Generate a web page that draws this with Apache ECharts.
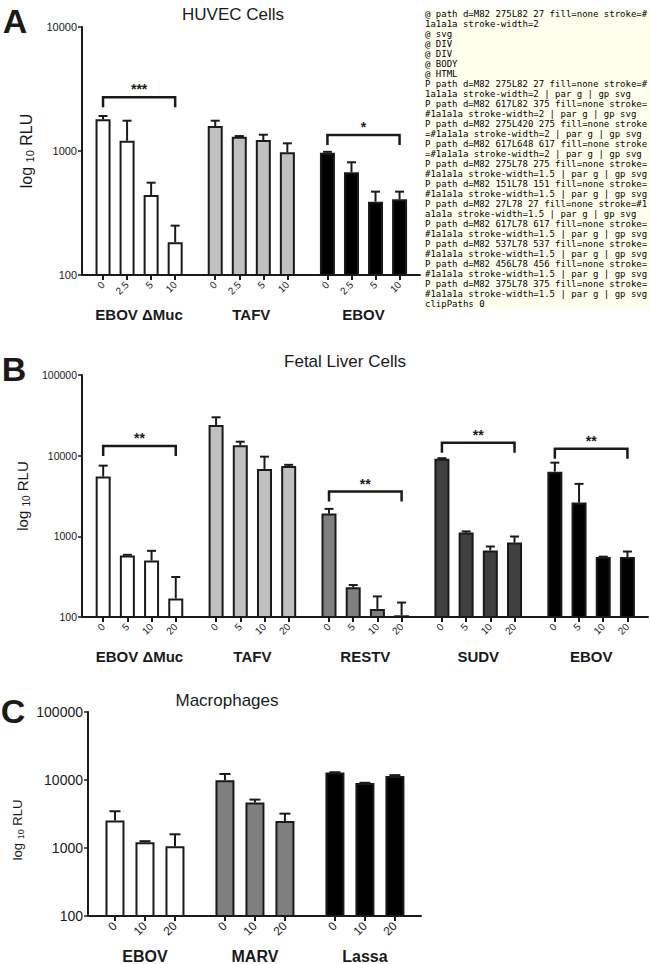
<!DOCTYPE html>
<html>
<head>
<meta charset="utf-8">
<script src="https://cdn.jsdelivr.net/npm/echarts@6/dist/echarts.min.js"></script>
<style>html,body{margin:0;padding:0;background:#fff}#c{width:650px;height:964px}#dbg{position:absolute;left:425px;top:0;width:225px;background:#ffe;font:9px monospace;white-space:pre-wrap;word-break:break-all;z-index:10}</style>
</head>
<body>
<div id="c"></div>
<pre id="dbg"></pre>
<script>
const huvecGroups = ['EBOV ΔMuc', 'TAFV', 'EBOV'];
const huvecDoses = ['0', '2.5', '5', '10'];
const huvecMean = [[1800, 1210, 442, 184], [1590, 1304, 1227, 975], [969, 673, 390, 408]];
const huvecErrTop = [[1916, 1755, 555, 250], [1755, 1320, 1353, 1153], [985, 811, 470, 470]];
const huvecSig = [[0, 2711, '***'], [2, 1345, '*']];
const huvecTicks = [100, 1000, 10000];
const liverGroups = ['EBOV ΔMuc', 'TAFV', 'RESTV', 'SUDV', 'EBOV'];
const liverDoses = ['0', '5', '10', '20'];
const liverMean = [[5500, 578, 501, 170], [24000, 13450, 6840, 7450], [1915, 233, 126, 105], [9180, 1113, 667, 838], [6340, 2620, 553, 553]];
const liverErrTop = [[7520, 590, 661, 313], [29900, 14900, 9720, 7700], [2190, 249, 180, 151], [9300, 1150, 748, 995], [8190, 4470, 560, 648]];
const liverSig = [[0, 13200, '**'], [2, 3590, '**'], [3, 14500, '**'], [4, 12200, '**']];
const liverTicks = [100, 1000, 10000, 100000];
const macroGroups = ['EBOV', 'MARV', 'Lassa'];
const macroDoses = ['0', '10', '20'];
const macroMean = [[2530, 1213, 1060], [9900, 4650, 2490], [12850, 9030, 11450]];
const macroErrTop = [[3470, 1260, 1590], [12250, 5150, 3200], [13000, 9100, 11800]];
const macroSig = [];
const macroTicks = [100, 1000, 10000, 100000];
const FONT = '"Liberation Sans", Arial, Helvetica, sans-serif';
const INK = '#1a1a1a';
const GAP = 2 / 3;
const panels = [
  { letter: 'A', title: 'HUVEC Cells', groups: huvecGroups, doses: huvecDoses, mean: huvecMean, err: huvecErrTop, sig: huvecSig, ticks: huvecTicks,
    colors: ['#ffffff', '#c0c0c0', '#000000'], grid: { left: 82, top: 27, width: 338, height: 248 }, edgeL: 0.875, edgeR: 0.85,
    barW: 15, cap: 9, yFont: 11, doseFont: 10, groupFont: 15, nameFont: 16, namePad: 0, nameGap: 46, letterPos: [15, 21], titlePos: [233, 14] },
  { letter: 'B', title: 'Fetal Liver Cells', groups: liverGroups, doses: liverDoses, mean: liverMean, err: liverErrTop, sig: liverSig, ticks: liverTicks,
    colors: ['#ffffff', '#c0c0c0', '#7f7f7f', '#404040', '#000000'], grid: { left: 82, top: 375, width: 566, height: 242 }, edgeL: 0.875, edgeR: 0.85,
    barW: 15, cap: 9, yFont: 10.5, doseFont: 10, groupFont: 15, nameFont: 15, namePad: 0, nameGap: 46, letterPos: [14, 369], titlePos: [345, 361] },
  { letter: 'C', title: 'Macrophages', groups: macroGroups, doses: macroDoses, mean: macroMean, err: macroErrTop, sig: macroSig, ticks: macroTicks,
    colors: ['#ffffff', '#7f7f7f', '#000000'], grid: { left: 88, top: 712, width: 333, height: 204 }, edgeL: 0.9, edgeR: 0.87,
    barW: 19, cap: 11, yFont: 14, doseFont: 12, groupFont: 16, nameFont: 13, namePad: 32, nameGap: 58, letterPos: [13, 711], titlePos: [227, 700] }
];
const grids = [], xAxes = [], yAxes = [], series = [], graphics = [];
panels.forEach((p, k) => {
  const n = p.doses.length;
  const pos = (g, i) => p.edgeL + g * (n + GAP) + i;
  const tickPos = [], tickLab = [];
  p.groups.forEach((_, g) => p.doses.forEach((d, i) => { tickPos.push(pos(g, i)); tickLab.push(d); }));
  const groupPos = p.groups.map((_, g) => pos(g, (n - 1) / 2));
  const last = pos(p.groups.length - 1, n - 1);
  const xmin = 0, xmax = last + p.edgeR;
  const ymin = p.ticks[0], ymax = p.ticks[p.ticks.length - 1];
  const near = (arr, labels) => v => { let b = 0; arr.forEach((a, i) => { if (Math.abs(a - v) < Math.abs(arr[b] - v)) b = i; }); return labels[b]; };
  grids.push(Object.assign({}, p.grid));
  xAxes.push({ type: 'value', gridIndex: k, min: xmin, max: xmax, position: 'bottom',
    axisLine: { show: true, onZero: false, lineStyle: { color: INK, width: 2 } },
    axisTick: { show: true, length: 5, lineStyle: { color: INK, width: 2 }, customValues: tickPos },
    axisLabel: { show: true, customValues: tickPos, rotate: 45, margin: 8, fontSize: p.doseFont, fontFamily: FONT, color: INK, formatter: near(tickPos, tickLab) },
    splitLine: { show: false } });
  xAxes.push({ type: 'value', gridIndex: k, min: xmin, max: xmax, position: 'bottom',
    axisLine: { show: false, onZero: false }, axisTick: { show: false }, splitLine: { show: false },
    axisLabel: { show: true, customValues: groupPos, margin: 32, fontSize: p.groupFont, fontWeight: 'bold', fontFamily: FONT, color: INK, formatter: near(groupPos, p.groups) } });
  yAxes.push({ type: 'log', logBase: 10, gridIndex: k, min: ymin, max: ymax, interval: 1,
    name: '{a|log }{b|10}{a| RLU}', nameLocation: 'middle', nameRotate: 90, nameGap: p.nameGap,
    nameTextStyle: { padding: [0, p.namePad, 0, 0], rich: { a: { fontSize: p.nameFont, fontFamily: FONT, color: INK }, b: { fontSize: Math.round(p.nameFont * 0.68), fontFamily: FONT, color: INK, padding: [7, 0, 0, 0], verticalAlign: 'bottom' } } },
    axisLine: { show: true, lineStyle: { color: INK, width: 2 } },
    axisTick: { show: true, length: 4, lineStyle: { color: INK, width: 1.5 } },
    axisLabel: { margin: 5, fontSize: p.yFont, fontFamily: FONT, color: INK, formatter: v => String(Math.round(v)) },
    splitLine: { show: false } });
  const barData = [], errData = [];
  p.groups.forEach((_, g) => p.doses.forEach((d, i) => {
    barData.push({ value: [pos(g, i), p.mean[g][i]], itemStyle: { color: p.colors[g] } });
    errData.push([pos(g, i), p.mean[g][i], p.err[g][i]]);
  }));
  series.push({ type: 'bar', xAxisIndex: 2 * k, yAxisIndex: k, barWidth: p.barW, data: barData, itemStyle: { borderColor: INK, borderWidth: 2 }, silent: true });
  const cap = p.cap;
  series.push({ type: 'custom', xAxisIndex: 2 * k, yAxisIndex: k, data: errData, encode: { x: 0, y: [1, 2] }, z: 3, silent: true,
    renderItem(params, api) {
      const x = api.value(0), m = api.value(1), t = api.value(2);
      const a = api.coord([x, m]), b = api.coord([x, t]);
      return { type: 'group', children: [
        { type: 'line', shape: { x1: a[0], y1: a[1], x2: b[0], y2: b[1] }, style: { stroke: INK, lineWidth: 2 } },
        { type: 'line', shape: { x1: b[0] - cap / 2, y1: b[1], x2: b[0] + cap / 2, y2: b[1] }, style: { stroke: INK, lineWidth: 2 } } ] };
    } });
  if (p.sig.length) {
    const sigData = p.sig.map(s => [pos(s[0], 0), s[1], pos(s[0], n - 1)]);
    const sigLab = p.sig.map(s => s[2]);
    series.push({ type: 'custom', xAxisIndex: 2 * k, yAxisIndex: k, data: sigData, encode: { x: [0, 2], y: 1 }, z: 4, silent: true,
      renderItem(params, api) {
        const a = api.coord([api.value(0), api.value(1)]), b = api.coord([api.value(2), api.value(1)]);
        return { type: 'group', children: [
          { type: 'polyline', shape: { points: [[a[0], a[1] + 10], [a[0], a[1]], [b[0], b[1]], [b[0], b[1] + 10]] }, style: { stroke: INK, lineWidth: 2.5, fill: null } },
          { type: 'text', x: (a[0] + b[0]) / 2, y: a[1] - 8, style: { text: sigLab[params.dataIndex], fontSize: 14, fontWeight: 'bold', fontFamily: FONT, fill: INK, align: 'center', verticalAlign: 'middle' } } ] };
      } });
  }
  graphics.push({ type: 'text', x: p.letterPos[0], y: p.letterPos[1], style: { text: p.letter, fontSize: 34, fontWeight: 'bold', fontFamily: FONT, fill: INK, align: 'center', verticalAlign: 'middle' } });
  graphics.push({ type: 'text', x: p.titlePos[0], y: p.titlePos[1], style: { text: p.title, fontSize: 17, fontFamily: FONT, fill: INK, align: 'center', verticalAlign: 'middle' } });
});
const chart = echarts.init(document.getElementById('c'), null, { renderer: 'svg', width: 650, height: 964 });
chart.setOption({ animation: false, grid: grids, xAxis: xAxes, yAxis: yAxes, series: series, graphic: graphics });
const out = [];
const desc = e => { let s = e.tagName; ['d','fill','stroke','stroke-width','opacity','clip-path','transform'].forEach(a => { const v = e.getAttribute && e.getAttribute(a); if (v) s += ' ' + a + '=' + v.slice(0, 40); }); return s; };
document.elementsFromPoint(82, 150).slice(0, 8).forEach(e => out.push('@ ' + desc(e)));
const svg = document.querySelector('#c svg');
svg.querySelectorAll('path').forEach(p => { const d = p.getAttribute('d') || ''; if (/^M8[12](\.\d+)? /.test(d)) { let par = p.parentNode; out.push('P ' + desc(p) + ' | par ' + desc(par) + ' | gp ' + desc(par.parentNode)); } });
out.push('clipPaths ' + svg.querySelectorAll('clipPath').length);
svg.querySelectorAll('clipPath').forEach(c => out.push('CP ' + c.id + ' ' + c.innerHTML.slice(0, 60)));
document.getElementById('dbg').textContent = out.join('\n');
</script>
</body>
</html>
